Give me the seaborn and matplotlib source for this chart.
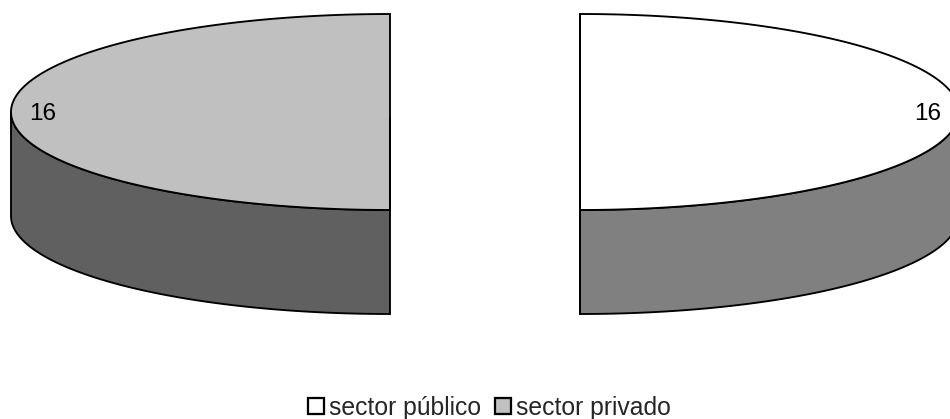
import numpy as np
import pandas as pd
import seaborn as sns
import matplotlib.pyplot as plt
from matplotlib.patches import Patch

sectors = ['sector público', 'sector privado']
values = [16, 16]
top_colors = ['#ffffff', '#c0c0c0']
side_colors = ['#808080', '#606060']

# pie geometry in pixels
CENTERS_X = [580, 390]
LABELS_X = [928, 43]
LABEL_Y = 114
CENTER_Y = 112
RX = 379
RY = 98
DEPTH = 104
LW = 1.35


def draw_slice(ax, cx, start, end, top, side):
    t = np.radians(np.linspace(start, end, 300))
    x = cx + RX * np.cos(t)
    y = CENTER_Y - RY * np.sin(t)

    # only the front part of the rim can be seen
    front = np.sin(t) <= 0
    xf, yf = x[front], y[front]
    ax.fill(np.r_[xf, xf[::-1]], np.r_[yf, yf[::-1] + DEPTH],
            facecolor=side, edgecolor='black', linewidth=LW, zorder=2)

    # flat top and the cut face edge
    ax.fill(x, y, facecolor=top, edgecolor='black', linewidth=LW, zorder=3)
    ax.plot([cx, cx], [y[0], y[-1] + DEPTH], color='black', lw=LW, zorder=4)


def main():
    sns.set_style('white')
    plt.rcParams['font.family'] = ['Liberation Sans', 'DejaVu Sans']

    df = pd.DataFrame({'sector': sectors, 'value': values})
    df['sweep'] = df['value'] / df['value'].sum() * 360

    fig = plt.figure(figsize=(9.5, 4.19), dpi=100)
    ax = fig.add_axes([0, 0, 1, 1])
    ax.set_xlim(0, 950)
    ax.set_ylim(419, 0)
    ax.axis('off')

    start = 90
    for i, row in df.iterrows():
        draw_slice(ax, CENTERS_X[i], start, start - row['sweep'],
                   top_colors[i], side_colors[i])
        ax.text(LABELS_X[i], LABEL_Y, str(row['value']), fontsize=17.5,
                ha='center', va='center', color='black', zorder=5)
        start -= row['sweep']

    handles = [Patch(facecolor=c, edgecolor='black', linewidth=LW * 1.2)
               for c in top_colors]
    fig.legend(handles, sectors, loc='center', bbox_to_anchor=(0.5155, 0.027),
               ncol=2, frameon=False, fontsize=17.8, handlelength=0.66,
               handleheight=0.66, handletextpad=0.2, columnspacing=0.55,
               borderpad=0, borderaxespad=0)

    fig.savefig('out.png', dpi=100)


if __name__ == '__main__':
    main()
